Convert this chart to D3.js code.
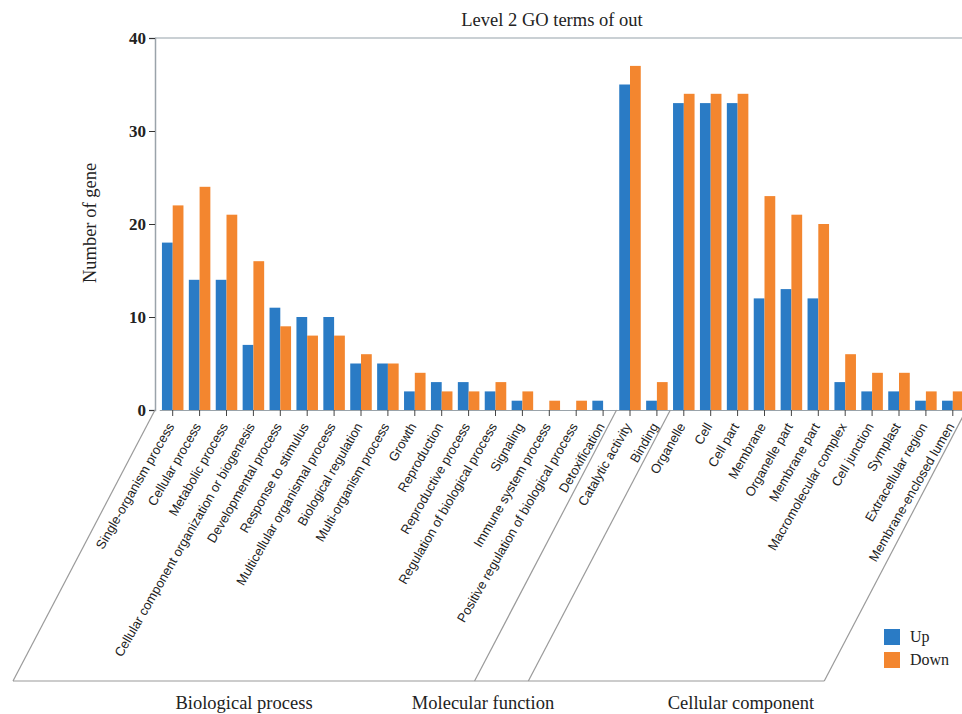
<!DOCTYPE html>
<html>
<head>
<meta charset="utf-8">
<script src="https://cdn.jsdelivr.net/npm/d3@7"></script>
<style>
  body { margin: 0; background: #fff; }
  svg { display: block; }
</style>
</head>
<body>
<div id="chart"></div>
<script>
// GO term names, in plot order
var categories = [
  "Single-organism process", "Cellular process", "Metabolic process",
  "Cellular component organization or biogenesis", "Developmental process",
  "Response to stimulus", "Multicellular organismal process", "Biological regulation",
  "Multi-organism process", "Growth", "Reproduction", "Reproductive process",
  "Regulation of biological process", "Signaling", "Immune system process",
  "Positive regulation of biological process", "Detoxification",
  "Catalytic activity", "Binding",
  "Organelle", "Cell", "Cell part", "Membrane", "Organelle part", "Membrane part",
  "Macromolecular complex", "Cell junction", "Symplast", "Extracellular region",
  "Membrane-enclosed lumen"
];
var upValues = [18, 14, 14, 7, 11, 10, 10, 5, 5, 2, 3, 3, 2, 1, 0, 0, 1,
                35, 1,
                33, 33, 33, 12, 13, 12, 3, 2, 2, 1, 1];
var downValues = [22, 24, 21, 16, 9, 8, 8, 6, 5, 4, 2, 2, 3, 2, 1, 1, 0,
                  37, 3,
                  34, 34, 34, 23, 21, 20, 6, 4, 4, 2, 2];
var groupNames = ["Biological process", "Molecular function", "Cellular component"];
var groupSizes = [17, 2, 11];
var seriesNames = ["Up", "Down"];
var yTicks = [0, 10, 20, 30, 40];

var colors = { Up: "#2a7bc5", Down: "#f3862f" };

var svgWidth = 962, svgHeight = 714;
var plotLeft = 155, plotTop = 38, plotBottom = 410;
var bracketBottom = 681, shear = 142;
var groupLabelX = [244, 483, 741];
var serif = "'Liberation Serif', 'Times New Roman', serif";

var svg = d3.select("#chart").append("svg")
  .attr("width", svgWidth)
  .attr("height", svgHeight);

var x0 = d3.scaleBand()
  .domain(categories)
  .range([159.25, 966.25])
  .paddingInner(0.2)
  .paddingOuter(0.1);

var x1 = d3.scaleBand()
  .domain(seriesNames)
  .range([0, x0.bandwidth()]);

var y = d3.scaleLinear()
  .domain([0, 40])
  .range([plotBottom, plotTop]);

var rows = categories.map(function(c, i) {
  return { name: c, Up: upValues[i], Down: downValues[i] };
});

// frame top line
svg.append("line")
  .attr("x1", plotLeft).attr("x2", svgWidth)
  .attr("y1", plotTop).attr("y2", plotTop)
  .attr("stroke", "#b9c0c6").attr("stroke-width", 1.5);

// title
svg.append("text")
  .attr("x", 552).attr("y", 26)
  .attr("text-anchor", "middle")
  .style("font-family", serif)
  .style("font-size", "18.5px")
  .attr("fill", "#222")
  .text("Level 2 GO terms of out");

// bars
var groups = svg.append("g").selectAll("g")
  .data(rows)
  .enter().append("g")
  .attr("transform", function(d) { return "translate(" + x0(d.name) + ",0)"; });

groups.selectAll("rect")
  .data(function(d) { return seriesNames.map(function(s) { return { key: s, value: d[s] }; }); })
  .enter().append("rect")
  .attr("x", function(d) { return x1(d.key); })
  .attr("y", function(d) { return y(d.value); })
  .attr("width", x1.bandwidth())
  .attr("height", function(d) { return y(0) - y(d.value); })
  .attr("fill", function(d) { return colors[d.key]; });

// y axis
var yAxis = svg.append("g")
  .attr("transform", "translate(" + plotLeft + ",0)")
  .call(d3.axisLeft(y).tickValues(yTicks).tickSize(6).tickPadding(3));
yAxis.select(".domain").attr("stroke", "#9aa3aa").attr("stroke-width", 1.5);
yAxis.selectAll(".tick line").attr("stroke", "#333");
yAxis.selectAll("text")
  .style("font-family", serif)
  .style("font-size", "17px")
  .style("font-weight", "bold")
  .attr("fill", "#222");

svg.append("text")
  .attr("transform", "translate(96," + 223 + ") rotate(-90)")
  .attr("text-anchor", "middle")
  .style("font-family", serif)
  .style("font-size", "18.5px")
  .attr("fill", "#222")
  .text("Number of gene");

// x axis
var xAxis = svg.append("g")
  .attr("transform", "translate(0," + plotBottom + ")")
  .call(d3.axisBottom(x0).tickSize(6).tickSizeOuter(0));
xAxis.select(".domain").attr("stroke", "#9aa3aa");
xAxis.selectAll(".tick line").attr("stroke", "#444");
xAxis.selectAll("text")
  .attr("x", 0).attr("y", 0).attr("dy", "0.35em")
  .attr("transform", "translate(-2,14) rotate(-60)")
  .attr("text-anchor", "end")
  .style("font-family", "'Liberation Sans', Arial, sans-serif")
  .style("font-size", "13px")
  .attr("fill", "#222");

// group brackets
var step = x0.step();
var edges = [x0.range()[0]];
groupSizes.forEach(function(n, i) { edges.push(edges[i] + n * step); });

var bracket = svg.append("g")
  .attr("stroke", "#9a9a9a")
  .attr("stroke-width", 1.2)
  .attr("fill", "none");

bracket.append("line")
  .attr("x1", plotLeft - shear).attr("x2", edges[edges.length - 1] - shear)
  .attr("y1", bracketBottom).attr("y2", bracketBottom);

edges.forEach(function(e, i) {
  var xs = i === 0 ? plotLeft : e;
  bracket.append("line")
    .attr("x1", xs).attr("y1", plotBottom)
    .attr("x2", xs - shear).attr("y2", bracketBottom);
});

svg.append("g").selectAll("text")
  .data(groupNames)
  .enter().append("text")
  .attr("x", function(d, i) { return groupLabelX[i]; })
  .attr("y", 709)
  .attr("text-anchor", "middle")
  .style("font-family", serif)
  .style("font-size", "18.5px")
  .attr("fill", "#222")
  .text(function(d) { return d; });

// legend
var legend = svg.append("g")
  .attr("transform", "translate(884,629)");
var li = legend.selectAll("g")
  .data(seriesNames)
  .enter().append("g")
  .attr("transform", function(d, i) { return "translate(0," + i * 23 + ")"; });
li.append("rect")
  .attr("width", 16).attr("height", 16)
  .attr("fill", function(d) { return colors[d]; });
li.append("text")
  .attr("x", 26).attr("y", 13)
  .style("font-family", serif)
  .style("font-size", "16px")
  .attr("fill", "#222")
  .text(function(d) { return d; });
</script>
</body>
</html>
